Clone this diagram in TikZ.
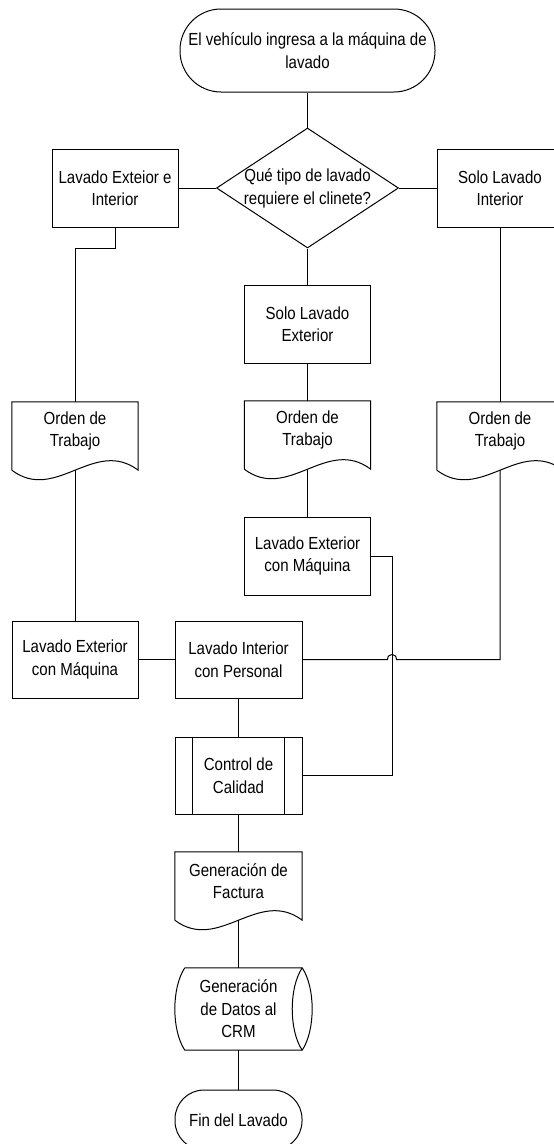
\documentclass[tikz,border=0pt]{standalone}
\usepackage{fontspec}
\setmainfont{Liberation Sans}[FakeStretch=0.86]
\usetikzlibrary{shapes.geometric}
\begin{document}
\begin{tikzpicture}[x=1pt,y=-1pt,
  every node/.style={font=\fontsize{17.5}{22.5}\selectfont, align=center, inner sep=2pt},
  ln/.style={line width=1pt, line join=miter},
  box/.style={draw, line width=1pt, rectangle, minimum width=126pt, minimum height=78pt},
  term/.style={draw, line width=1pt, rectangle, rounded corners=41pt, minimum width=255pt, minimum height=83pt},
  docn/.style={rectangle, minimum width=126pt, minimum height=58pt},
  decision/.style={draw, line width=1pt, diamond, minimum width=182pt, minimum height=120pt, inner sep=0pt},
  txt/.style={inner sep=0pt},
]
\clip (0,0) rectangle (554,1144);
\fill[white] (0,0) rectangle (554,1144);

% nodes
\node[term] (start) at (307.5,50.5) {El vehículo ingresa a la máquina de\\lavado};
\node[decision] (dia) at (307.5,188) {};
\node[txt] (diat) at (307.5,188.5) {Qué tipo de lavado\\requiere el clinete?};
\node[box] (lei) at (115,188) {Lavado Exteior e\\Interior};
\node[box] (sli) at (500,188) {Solo Lavado\\Interior};
\node[box] (sle) at (307.5,324) {Solo Lavado\\Exterior};
\node[docn] (docL) at (75,431) {Orden de\\Trabajo};
\node[docn] (docC) at (307.5,430) {Orden de\\Trabajo};
\node[docn] (docR) at (500,431) {Orden de\\Trabajo};
\node[box] (cem) at (307.5,556) {Lavado Exterior\\con Máquina};
\node[box, minimum height=77pt] (lem) at (75,659.5) {Lavado Exterior\\con Máquina};
\node[box, minimum height=77pt, minimum width=127pt] (lip) at (238.5,659.5) {Lavado Interior\\con Personal};
\node[box, minimum height=77pt, minimum width=127pt] (cc) at (238.5,775.5) {Control de\\Calidad};
\node[docn, minimum width=127pt] (fac) at (238.5,881) {Generación de\\Factura};
\node[minimum width=127pt, minimum height=82pt] (crm) at (238.5,1009) {Generación\\de Datos al\\CRM};
\node[draw, line width=1pt, rectangle, rounded corners=29pt, minimum width=127pt, minimum height=60pt] (fin) at (238.5,1120) {Fin del Lavado};

% document shapes
\foreach \n in {docL,docC,docR,fac}{
  \draw[ln] ([yshift=-10pt]\n.south west) -- (\n.north west) -- (\n.north east) -- ([yshift=-10pt]\n.south east)
    .. controls +(-44,-33) and +(44,33) .. ([yshift=-10pt]\n.south west);
}
% stored data shape
\draw[ln] ([xshift=10pt]crm.north west) -- (crm.north east)
  .. controls +(13.3,20) and +(13.3,-20) .. (crm.south east)
  -- ([xshift=10pt]crm.south west)
  .. controls +(-13.3,-20) and +(-13.3,20) .. ([xshift=10pt]crm.north west);
\draw[ln] (crm.north east) .. controls +(-13.3,20) and +(-13.3,-20) .. (crm.south east);
% predefined process bars
\draw[ln] ([xshift=18pt]cc.north west) -- ([xshift=18pt]cc.south west)
          ([xshift=-18pt]cc.north east) -- ([xshift=-18pt]cc.south east);

% connectors
\coordinate (jR) at (396.5,659.5);
\coordinate (jL) at (387.5,659.5);
\draw[ln] (start.south) -- (dia.north);
\draw[ln] (dia.west) -- (lei.east);
\draw[ln] (dia.east) -- (sli.west);
\draw[ln] (dia.south) -- (sle.north);
\draw[ln] (lei.south) -- ++(0,21) -| (docL.north);
\draw[ln] (sle.south) -- (docC.north);
\draw[ln] (sli.south) -- (docR.north);
\draw[ln] ([yshift=-10pt]docC.south) -- (cem.north);
\draw[ln] ([yshift=-10pt]docL.south) -- (lem.north);
\draw[ln] (lem.east) -- (lip.west);
\draw[ln] ([yshift=-10pt]docR.south) |- (jR) .. controls +(0,-6.7) and +(0,-6.7) .. (jL) -- (lip.east);
\draw[ln] (cem.east) -- ++(21.5,0) |- (cc.east);
\draw[ln] (lip.south) -- (cc.north);
\draw[ln] (cc.south) -- (fac.north);
\draw[ln] ([yshift=-10pt]fac.south) -- (crm.north);
\draw[ln] (crm.south) -- (fin.north);
\end{tikzpicture}
\end{document}
